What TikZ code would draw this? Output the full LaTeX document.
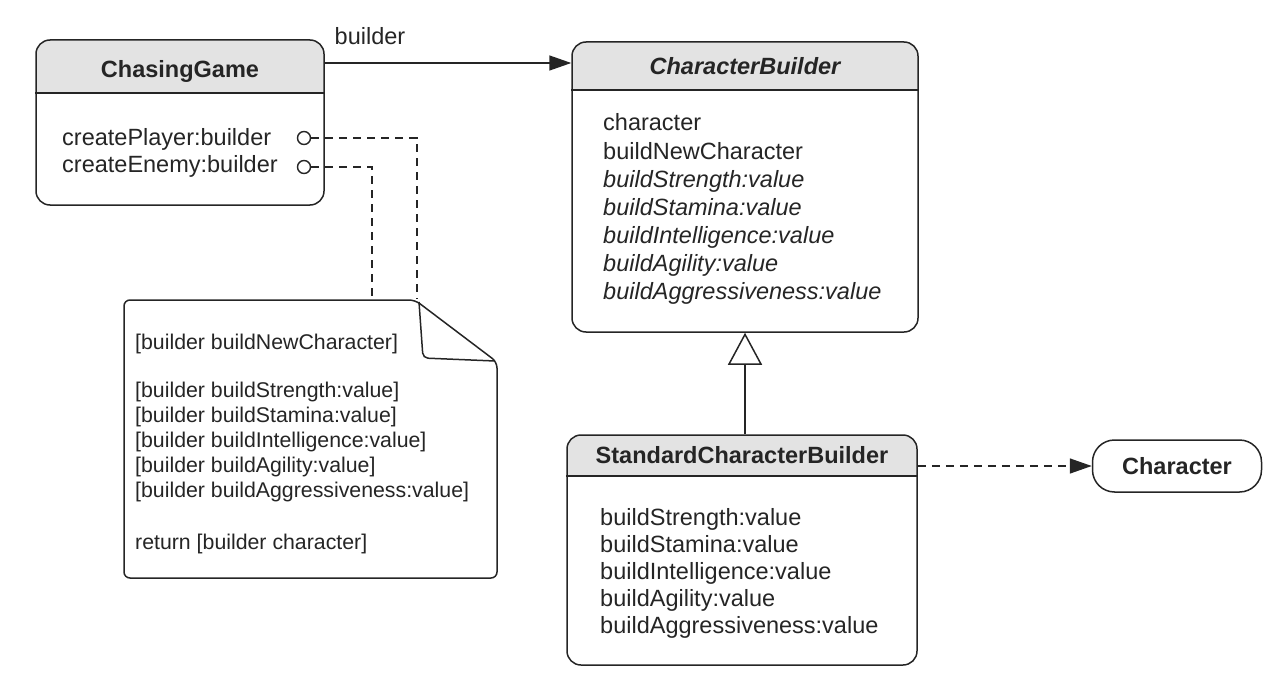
\documentclass[tikz,border=0pt]{standalone}
\usepackage{fontspec}
\setmainfont{Liberation Sans}
\usetikzlibrary{arrows.meta}
\definecolor{ink}{HTML}{252525}
\definecolor{hdr}{HTML}{E3E3E3}
\newcommand\umlbox[7]{%
  \begin{scope}
    \clip (#2,#3) rectangle (#4,#6);
    \fill[hdr, rounded corners=14pt] (#2,#3) rectangle (#4,#5);
  \end{scope}
  \node[box, minimum width={#4-#2}, minimum height={#5-#3}] (#1) at ({(#2+#4)/2},{(#3+#5)/2}) {};
  \draw[ln] (#1.west |- 0,#6) -- (#1.east |- 0,#6);
  \node[title] (#1t) at ({(#2+#4)/2},#7) {};
}
\begin{document}
\begin{tikzpicture}[x=1pt,y=-1pt,
  box/.style={draw=ink, line width=1.5pt, rounded corners=14pt, inner sep=0pt},
  ln/.style={draw=ink, line width=1.5pt},
  title/.style={inner sep=0pt, anchor=base},
  ttl/.style={inner sep=0pt, anchor=base, text=ink, font=\fontsize{23.5}{28}\selectfont\bfseries},
  txt/.style={inner sep=0pt, anchor=base west, text=ink, font=\fontsize{23.5}{28}\selectfont},
  ntxt/.style={inner sep=0pt, anchor=base west, text=ink, font=\fontsize{21.3}{25}\selectfont},
  dsh/.style={draw=ink, line width=1.5pt, dash pattern=on 8pt off 6pt},
  port/.style={circle, draw=ink, line width=1.4pt, minimum size=13pt, inner sep=0pt, fill=white},
  notebox/.style={draw=ink, line width=1.5pt, fill=white}]
\useasboundingbox (0,0) rectangle (1284,690);

% ChasingGame
\umlbox{cg}{36}{40}{324}{205}{93}{78}
\node[ttl] (cgT) at (180,78) {ChasingGame};
\node[txt] (cg1) at (62,145) {createPlayer:builder};
\node[txt] (cg2) at (62,172) {createEnemy:builder};
\node[port] (p1) at (304,138) {};
\node[port] (p2) at (304,167) {};

% CharacterBuilder
\umlbox{cb}{572}{42}{918}{332}{90}{75}
\node[ttl] (cbT) at (745,75) {\itshape CharacterBuilder};
\node[txt] (cb1) at (603,131) {character};
\node[txt] (cb2) at (603,159) {buildNewCharacter};
\node[txt] (cb3) at (603,187) {\itshape buildStrength:value};
\node[txt] (cb4) at (603,215) {\itshape buildStamina:value};
\node[txt] (cb5) at (603,243) {\itshape buildIntelligence:value};
\node[txt] (cb6) at (603,271) {\itshape buildAgility:value};
\node[txt] (cb7) at (603,299) {\itshape buildAggressiveness:value};

% StandardCharacterBuilder
\umlbox{scb}{567}{435}{917}{665}{476}{463}
\node[ttl] (scbT) at (742,463) {StandardCharacterBuilder};
\node[txt] (s1) at (600,525) {buildStrength:value};
\node[txt] (s2) at (600,552) {buildStamina:value};
\node[txt] (s3) at (600,579) {buildIntelligence:value};
\node[txt] (s4) at (600,606) {buildAgility:value};
\node[txt] (s5) at (600,633) {buildAggressiveness:value};

% Character
\node[box, rounded corners=22pt, minimum width=169pt, minimum height=52pt] (ch) at (1177,466) {};
\node[ttl] (chT) at (1177,474) {Character};

% Note
\draw[notebox, rounded corners=6pt] (124,300) -- (415,300) -- (497,362) -- (497,578) -- (124,578) -- cycle;
\draw[ln, rounded corners=5pt] (419,302) -- (423,358) -- (495,361);
\node[ntxt] (n1) at (135,349) {[builder buildNewCharacter]};
\node[ntxt] (n2) at (135,397) {[builder buildStrength:value]};
\node[ntxt] (n3) at (135,422) {[builder buildStamina:value]};
\node[ntxt] (n4) at (135,447) {[builder buildIntelligence:value]};
\node[ntxt] (n5) at (135,472) {[builder buildAgility:value]};
\node[ntxt] (n6) at (135,497) {[builder buildAggressiveness:value]};
\node[ntxt] (n7) at (135,549) {return [builder character]};
\coordinate (na) at (417,299);
\coordinate (nb) at (372,299);

% connectors
\draw[dsh] (p1.east) -| (na);
\draw[dsh] (p2.east) -| (nb);
\coordinate (ay) at (0,63);
\draw[ln, -{Triangle[length=22pt,width=15pt]}] (cg.east |- ay) -- (cb.west |- ay);
\node[txt, anchor=base] (lbl) at (370,45) {builder};
\draw[ln, -{Triangle[open, length=32pt, width=34pt, fill=white]}] (cb.south |- scb.north) -- (cb.south);
\draw[dsh, -{Triangle[length=22pt,width=15pt]}] (scb.east |- ch.west) -- (ch.west);
\end{tikzpicture}
\end{document}
